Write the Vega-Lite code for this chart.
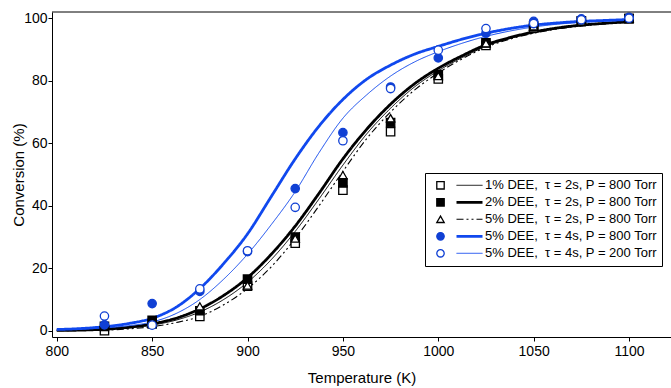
{
"$schema": "https://vega.github.io/schema/vega-lite/v6.json",
"width": 619, "height": 325,
"autosize": "none",
"padding": {"left": 52, "top": 12, "right": 0, "bottom": 51},
"background": "white",
"config": {
  "view": {"stroke": null},
  "axis": {"domainColor": "black", "tickColor": "black", "labelColor": "black", "titleColor": "black", "labelFont": "Liberation Sans", "titleFont": "Liberation Sans", "labelFontSize": 14, "titleFontSize": 15, "titleFontWeight": "normal", "tickSize": 4, "grid": false, "domainWidth": 1, "tickWidth": 1},
  "legend": {"labelFont": "Liberation Sans", "labelFontSize": 13, "labelColor": "black", "rowPadding": 0, "clipHeight": 16.6, "titlePadding": 0, "labelLimit": 400}
},
"datasets": {
  "points": [
    {"series": "1% DEE,\u00a0 τ = 2s, P = 800 Torr", "T": 825, "X": 0},
    {"series": "1% DEE,\u00a0 τ = 2s, P = 800 Torr", "T": 850, "X": 2.2},
    {"series": "1% DEE,\u00a0 τ = 2s, P = 800 Torr", "T": 875, "X": 4.6},
    {"series": "1% DEE,\u00a0 τ = 2s, P = 800 Torr", "T": 900, "X": 14.3},
    {"series": "1% DEE,\u00a0 τ = 2s, P = 800 Torr", "T": 925, "X": 28},
    {"series": "1% DEE,\u00a0 τ = 2s, P = 800 Torr", "T": 950, "X": 45},
    {"series": "1% DEE,\u00a0 τ = 2s, P = 800 Torr", "T": 975, "X": 63.7},
    {"series": "1% DEE,\u00a0 τ = 2s, P = 800 Torr", "T": 1000, "X": 80.6},
    {"series": "1% DEE,\u00a0 τ = 2s, P = 800 Torr", "T": 1025, "X": 91.3},
    {"series": "1% DEE,\u00a0 τ = 2s, P = 800 Torr", "T": 1050, "X": 97},
    {"series": "1% DEE,\u00a0 τ = 2s, P = 800 Torr", "T": 1075, "X": 99},
    {"series": "1% DEE,\u00a0 τ = 2s, P = 800 Torr", "T": 1100, "X": 99.8},
    {"series": "2% DEE,\u00a0 τ = 2s, P = 800 Torr", "T": 825, "X": 1.4},
    {"series": "2% DEE,\u00a0 τ = 2s, P = 800 Torr", "T": 850, "X": 3.3},
    {"series": "2% DEE,\u00a0 τ = 2s, P = 800 Torr", "T": 875, "X": 6.4},
    {"series": "2% DEE,\u00a0 τ = 2s, P = 800 Torr", "T": 900, "X": 16.5},
    {"series": "2% DEE,\u00a0 τ = 2s, P = 800 Torr", "T": 925, "X": 30},
    {"series": "2% DEE,\u00a0 τ = 2s, P = 800 Torr", "T": 950, "X": 47.3},
    {"series": "2% DEE,\u00a0 τ = 2s, P = 800 Torr", "T": 975, "X": 66.6},
    {"series": "2% DEE,\u00a0 τ = 2s, P = 800 Torr", "T": 1000, "X": 82},
    {"series": "2% DEE,\u00a0 τ = 2s, P = 800 Torr", "T": 1025, "X": 92.1},
    {"series": "2% DEE,\u00a0 τ = 2s, P = 800 Torr", "T": 1050, "X": 97.5},
    {"series": "2% DEE,\u00a0 τ = 2s, P = 800 Torr", "T": 1075, "X": 99.2},
    {"series": "2% DEE,\u00a0 τ = 2s, P = 800 Torr", "T": 1100, "X": 100},
    {"series": "5% DEE,\u00a0 τ = 2s, P = 800 Torr", "T": 825, "X": 2.5},
    {"series": "5% DEE,\u00a0 τ = 2s, P = 800 Torr", "T": 850, "X": 2.7},
    {"series": "5% DEE,\u00a0 τ = 2s, P = 800 Torr", "T": 875, "X": 7.8},
    {"series": "5% DEE,\u00a0 τ = 2s, P = 800 Torr", "T": 900, "X": 14.5},
    {"series": "5% DEE,\u00a0 τ = 2s, P = 800 Torr", "T": 925, "X": 29.5},
    {"series": "5% DEE,\u00a0 τ = 2s, P = 800 Torr", "T": 950, "X": 49.8},
    {"series": "5% DEE,\u00a0 τ = 2s, P = 800 Torr", "T": 975, "X": 68},
    {"series": "5% DEE,\u00a0 τ = 2s, P = 800 Torr", "T": 1000, "X": 81.5},
    {"series": "5% DEE,\u00a0 τ = 2s, P = 800 Torr", "T": 1025, "X": 92},
    {"series": "5% DEE,\u00a0 τ = 2s, P = 800 Torr", "T": 1050, "X": 97.4},
    {"series": "5% DEE,\u00a0 τ = 2s, P = 800 Torr", "T": 1075, "X": 99},
    {"series": "5% DEE,\u00a0 τ = 2s, P = 800 Torr", "T": 1100, "X": 100},
    {"series": "5% DEE,\u00a0 τ = 4s, P = 800 Torr", "T": 825, "X": 1.9},
    {"series": "5% DEE,\u00a0 τ = 4s, P = 800 Torr", "T": 850, "X": 8.7},
    {"series": "5% DEE,\u00a0 τ = 4s, P = 800 Torr", "T": 875, "X": 12.6},
    {"series": "5% DEE,\u00a0 τ = 4s, P = 800 Torr", "T": 900, "X": 25.3},
    {"series": "5% DEE,\u00a0 τ = 4s, P = 800 Torr", "T": 925, "X": 45.5},
    {"series": "5% DEE,\u00a0 τ = 4s, P = 800 Torr", "T": 950, "X": 63.4},
    {"series": "5% DEE,\u00a0 τ = 4s, P = 800 Torr", "T": 975, "X": 78},
    {"series": "5% DEE,\u00a0 τ = 4s, P = 800 Torr", "T": 1000, "X": 87.3},
    {"series": "5% DEE,\u00a0 τ = 4s, P = 800 Torr", "T": 1025, "X": 95.2},
    {"series": "5% DEE,\u00a0 τ = 4s, P = 800 Torr", "T": 1050, "X": 99},
    {"series": "5% DEE,\u00a0 τ = 4s, P = 800 Torr", "T": 1075, "X": 99.8},
    {"series": "5% DEE,\u00a0 τ = 4s, P = 800 Torr", "T": 1100, "X": 100.3},
    {"series": "5% DEE,\u00a0 τ = 4s, P = 200 Torr", "T": 825, "X": 4.7},
    {"series": "5% DEE,\u00a0 τ = 4s, P = 200 Torr", "T": 850, "X": 1.8},
    {"series": "5% DEE,\u00a0 τ = 4s, P = 200 Torr", "T": 875, "X": 13.4},
    {"series": "5% DEE,\u00a0 τ = 4s, P = 200 Torr", "T": 900, "X": 25.6},
    {"series": "5% DEE,\u00a0 τ = 4s, P = 200 Torr", "T": 925, "X": 39.5},
    {"series": "5% DEE,\u00a0 τ = 4s, P = 200 Torr", "T": 950, "X": 60.8},
    {"series": "5% DEE,\u00a0 τ = 4s, P = 200 Torr", "T": 975, "X": 77.5},
    {"series": "5% DEE,\u00a0 τ = 4s, P = 200 Torr", "T": 1000, "X": 89.8},
    {"series": "5% DEE,\u00a0 τ = 4s, P = 200 Torr", "T": 1025, "X": 96.7},
    {"series": "5% DEE,\u00a0 τ = 4s, P = 200 Torr", "T": 1050, "X": 98.3},
    {"series": "5% DEE,\u00a0 τ = 4s, P = 200 Torr", "T": 1075, "X": 99.5},
    {"series": "5% DEE,\u00a0 τ = 4s, P = 200 Torr", "T": 1100, "X": 100}
  ],
  "curves": [
    {"series": "1% DEE", "T": 800, "X": 0.1}, {"series": "1% DEE", "T": 812.5, "X": 0.2}, {"series": "1% DEE", "T": 825, "X": 0.4}, {"series": "1% DEE", "T": 837.5, "X": 0.9}, {"series": "1% DEE", "T": 850, "X": 1.8}, {"series": "1% DEE", "T": 862.5, "X": 3.4}, {"series": "1% DEE", "T": 875, "X": 6}, {"series": "1% DEE", "T": 887.5, "X": 10}, {"series": "1% DEE", "T": 900, "X": 15.5}, {"series": "1% DEE", "T": 912.5, "X": 22.8}, {"series": "1% DEE", "T": 925, "X": 31.8}, {"series": "1% DEE", "T": 937.5, "X": 42.2}, {"series": "1% DEE", "T": 950, "X": 53}, {"series": "1% DEE", "T": 962.5, "X": 63}, {"series": "1% DEE", "T": 975, "X": 71.2}, {"series": "1% DEE", "T": 987.5, "X": 78}, {"series": "1% DEE", "T": 1000, "X": 83.2}, {"series": "1% DEE", "T": 1012.5, "X": 87.4}, {"series": "1% DEE", "T": 1025, "X": 91}, {"series": "1% DEE", "T": 1037.5, "X": 93.5}, {"series": "1% DEE", "T": 1050, "X": 95.4}, {"series": "1% DEE", "T": 1062.5, "X": 96.7}, {"series": "1% DEE", "T": 1075, "X": 97.7}, {"series": "1% DEE", "T": 1087.5, "X": 98.3}, {"series": "1% DEE", "T": 1100, "X": 98.8},
    {"series": "2% DEE", "T": 800, "X": 0.1}, {"series": "2% DEE", "T": 812.5, "X": 0.2}, {"series": "2% DEE", "T": 825, "X": 0.5}, {"series": "2% DEE", "T": 837.5, "X": 1.1}, {"series": "2% DEE", "T": 850, "X": 2.2}, {"series": "2% DEE", "T": 862.5, "X": 4}, {"series": "2% DEE", "T": 875, "X": 7}, {"series": "2% DEE", "T": 887.5, "X": 11.3}, {"series": "2% DEE", "T": 900, "X": 17}, {"series": "2% DEE", "T": 912.5, "X": 24.5}, {"series": "2% DEE", "T": 925, "X": 33.5}, {"series": "2% DEE", "T": 937.5, "X": 44}, {"series": "2% DEE", "T": 950, "X": 55}, {"series": "2% DEE", "T": 962.5, "X": 64.5}, {"series": "2% DEE", "T": 975, "X": 72.5}, {"series": "2% DEE", "T": 987.5, "X": 79}, {"series": "2% DEE", "T": 1000, "X": 84}, {"series": "2% DEE", "T": 1012.5, "X": 88}, {"series": "2% DEE", "T": 1025, "X": 91.5}, {"series": "2% DEE", "T": 1037.5, "X": 93.8}, {"series": "2% DEE", "T": 1050, "X": 95.6}, {"series": "2% DEE", "T": 1062.5, "X": 96.9}, {"series": "2% DEE", "T": 1075, "X": 97.8}, {"series": "2% DEE", "T": 1087.5, "X": 98.4}, {"series": "2% DEE", "T": 1100, "X": 98.9},
    {"series": "5% DEE 2s", "T": 800, "X": 0}, {"series": "5% DEE 2s", "T": 812.5, "X": 0.1}, {"series": "5% DEE 2s", "T": 825, "X": 0.2}, {"series": "5% DEE 2s", "T": 837.5, "X": 0.6}, {"series": "5% DEE 2s", "T": 850, "X": 1.3}, {"series": "5% DEE 2s", "T": 862.5, "X": 2.6}, {"series": "5% DEE 2s", "T": 875, "X": 4.6}, {"series": "5% DEE 2s", "T": 887.5, "X": 8.3}, {"series": "5% DEE 2s", "T": 900, "X": 13.5}, {"series": "5% DEE 2s", "T": 912.5, "X": 20.5}, {"series": "5% DEE 2s", "T": 925, "X": 29.5}, {"series": "5% DEE 2s", "T": 937.5, "X": 40}, {"series": "5% DEE 2s", "T": 950, "X": 51}, {"series": "5% DEE 2s", "T": 962.5, "X": 61.5}, {"series": "5% DEE 2s", "T": 975, "X": 70}, {"series": "5% DEE 2s", "T": 987.5, "X": 77}, {"series": "5% DEE 2s", "T": 1000, "X": 82.5}, {"series": "5% DEE 2s", "T": 1012.5, "X": 87}, {"series": "5% DEE 2s", "T": 1025, "X": 90.7}, {"series": "5% DEE 2s", "T": 1037.5, "X": 93.3}, {"series": "5% DEE 2s", "T": 1050, "X": 95.2}, {"series": "5% DEE 2s", "T": 1062.5, "X": 96.6}, {"series": "5% DEE 2s", "T": 1075, "X": 97.5}, {"series": "5% DEE 2s", "T": 1087.5, "X": 98.2}, {"series": "5% DEE 2s", "T": 1100, "X": 98.7},
    {"series": "5% DEE 4s 800", "T": 800, "X": 0.4}, {"series": "5% DEE 4s 800", "T": 812.5, "X": 0.7}, {"series": "5% DEE 4s 800", "T": 825, "X": 1.3}, {"series": "5% DEE 4s 800", "T": 837.5, "X": 2.3}, {"series": "5% DEE 4s 800", "T": 850, "X": 4}, {"series": "5% DEE 4s 800", "T": 862.5, "X": 7.5}, {"series": "5% DEE 4s 800", "T": 875, "X": 13.5}, {"series": "5% DEE 4s 800", "T": 887.5, "X": 21.5}, {"series": "5% DEE 4s 800", "T": 900, "X": 31}, {"series": "5% DEE 4s 800", "T": 912.5, "X": 43}, {"series": "5% DEE 4s 800", "T": 925, "X": 55}, {"series": "5% DEE 4s 800", "T": 937.5, "X": 65.5}, {"series": "5% DEE 4s 800", "T": 950, "X": 74}, {"series": "5% DEE 4s 800", "T": 962.5, "X": 80.5}, {"series": "5% DEE 4s 800", "T": 975, "X": 85}, {"series": "5% DEE 4s 800", "T": 987.5, "X": 88.5}, {"series": "5% DEE 4s 800", "T": 1000, "X": 91}, {"series": "5% DEE 4s 800", "T": 1012.5, "X": 93.3}, {"series": "5% DEE 4s 800", "T": 1025, "X": 95.2}, {"series": "5% DEE 4s 800", "T": 1037.5, "X": 96.7}, {"series": "5% DEE 4s 800", "T": 1050, "X": 97.8}, {"series": "5% DEE 4s 800", "T": 1062.5, "X": 98.5}, {"series": "5% DEE 4s 800", "T": 1075, "X": 99}, {"series": "5% DEE 4s 800", "T": 1087.5, "X": 99.3}, {"series": "5% DEE 4s 800", "T": 1100, "X": 99.6},
    {"series": "5% DEE 4s 200", "T": 800, "X": 0.3}, {"series": "5% DEE 4s 200", "T": 812.5, "X": 0.5}, {"series": "5% DEE 4s 200", "T": 825, "X": 0.9}, {"series": "5% DEE 4s 200", "T": 837.5, "X": 1.6}, {"series": "5% DEE 4s 200", "T": 850, "X": 2.8}, {"series": "5% DEE 4s 200", "T": 862.5, "X": 5.5}, {"series": "5% DEE 4s 200", "T": 875, "X": 10}, {"series": "5% DEE 4s 200", "T": 887.5, "X": 16.5}, {"series": "5% DEE 4s 200", "T": 900, "X": 24.5}, {"series": "5% DEE 4s 200", "T": 912.5, "X": 34}, {"series": "5% DEE 4s 200", "T": 925, "X": 44.5}, {"series": "5% DEE 4s 200", "T": 937.5, "X": 57}, {"series": "5% DEE 4s 200", "T": 950, "X": 68}, {"series": "5% DEE 4s 200", "T": 962.5, "X": 75.5}, {"series": "5% DEE 4s 200", "T": 975, "X": 81.5}, {"series": "5% DEE 4s 200", "T": 987.5, "X": 86}, {"series": "5% DEE 4s 200", "T": 1000, "X": 89.3}, {"series": "5% DEE 4s 200", "T": 1012.5, "X": 92}, {"series": "5% DEE 4s 200", "T": 1025, "X": 94.2}, {"series": "5% DEE 4s 200", "T": 1037.5, "X": 95.9}, {"series": "5% DEE 4s 200", "T": 1050, "X": 97.2}, {"series": "5% DEE 4s 200", "T": 1062.5, "X": 98.1}, {"series": "5% DEE 4s 200", "T": 1075, "X": 98.7}, {"series": "5% DEE 4s 200", "T": 1087.5, "X": 99.1}, {"series": "5% DEE 4s 200", "T": 1100, "X": 99.4}
  ]
},
"layer": [
  {
    "data": {"name": "curves"},
    "mark": {"type": "line", "interpolate": "monotone", "clip": true},
    "encoding": {
      "x": {"field": "T", "type": "quantitative", "title": "Temperature (K)",
            "scale": {"domain": [797.5, 1122], "nice": false, "zero": false},
            "axis": {"values": [800, 850, 900, 950, 1000, 1050, 1100], "format": "d", "labelPadding": 3, "titlePadding": 12, "labelFlush": false}},
      "y": {"field": "X", "type": "quantitative", "title": "Conversion (%)",
            "scale": {"domain": [-2, 102], "nice": false, "zero": false},
            "axis": {"values": [0, 20, 40, 60, 80, 100], "format": "d", "labelPadding": 1, "titlePadding": -3}},
      "color": {"field": "series", "type": "nominal", "sort": null,
                "scale": {"range": ["black", "black", "black", "#1048ee", "#1048ee"]},
                "legend": {"orient": "none", "legendX": 399, "legendY": 161, "title": null, "padding": 4, "labelExpr": "''", "symbolSize": 676, "labelOffset": 0}},
      "strokeDash": {"field": "series", "type": "nominal", "sort": null,
                "scale": {"range": [[1, 0], [1, 0], [7, 3, 2, 3, 2, 3], [1, 0], [1, 0]]},
                "legend": {"orient": "none", "legendX": 399, "legendY": 161, "title": null, "padding": 4, "labelExpr": "''", "symbolSize": 676, "labelOffset": 0}},
      "strokeWidth": {"field": "series", "type": "nominal", "sort": null,
                "scale": {"type": "ordinal", "range": [1, 2.8, 1.1, 2.8, 1]},
                "legend": {"orient": "none", "legendX": 399, "legendY": 161, "title": null, "padding": 4, "labelExpr": "''", "symbolSize": 676, "labelOffset": 0}}
    }
  },
  {
    "data": {"name": "points"},
    "mark": {"type": "point", "filled": true, "opacity": 1, "strokeWidth": 1.3, "size": 70},
    "encoding": {
      "x": {"field": "T", "type": "quantitative"},
      "y": {"field": "X", "type": "quantitative"},
      "shape": {"field": "series", "type": "nominal",
                "scale": {"domain": ["1% DEE,\u00a0 τ = 2s, P = 800 Torr", "2% DEE,\u00a0 τ = 2s, P = 800 Torr", "5% DEE,\u00a0 τ = 2s, P = 800 Torr", "5% DEE,\u00a0 τ = 4s, P = 800 Torr", "5% DEE,\u00a0 τ = 4s, P = 200 Torr"],
                          "range": ["square", "square", "triangle-up", "circle", "circle"]},
                "legend": {"orient": "none", "legendX": 373, "legendY": 161, "title": null, "padding": 4, "strokeColor": "black", "symbolOffset": 5, "labelOffset": 38, "symbolSize": 55, "symbolStrokeWidth": 1.3}},
      "fill": {"field": "series", "type": "nominal",
                "scale": {"domain": ["1% DEE,\u00a0 τ = 2s, P = 800 Torr", "2% DEE,\u00a0 τ = 2s, P = 800 Torr", "5% DEE,\u00a0 τ = 2s, P = 800 Torr", "5% DEE,\u00a0 τ = 4s, P = 800 Torr", "5% DEE,\u00a0 τ = 4s, P = 200 Torr"],
                          "range": ["white", "black", "white", "#1040d4", "white"]},
                "legend": {"orient": "none", "legendX": 373, "legendY": 161, "title": null, "padding": 4, "strokeColor": "black", "symbolOffset": 5, "labelOffset": 38, "symbolSize": 55, "symbolStrokeWidth": 1.3}},
      "stroke": {"field": "series", "type": "nominal",
                "scale": {"domain": ["1% DEE,\u00a0 τ = 2s, P = 800 Torr", "2% DEE,\u00a0 τ = 2s, P = 800 Torr", "5% DEE,\u00a0 τ = 2s, P = 800 Torr", "5% DEE,\u00a0 τ = 4s, P = 800 Torr", "5% DEE,\u00a0 τ = 4s, P = 200 Torr"],
                          "range": ["black", "black", "black", "#1040d4", "#1040d4"]},
                "legend": {"orient": "none", "legendX": 373, "legendY": 161, "title": null, "padding": 4, "strokeColor": "black", "symbolOffset": 5, "labelOffset": 38, "symbolSize": 55, "symbolStrokeWidth": 1.3}}
    }
  },
  {
    "data": {"values": [{}]},
    "mark": {"type": "rule", "color": "black", "strokeWidth": 1},
    "encoding": {"y": {"datum": 102}}
  }
]
}
